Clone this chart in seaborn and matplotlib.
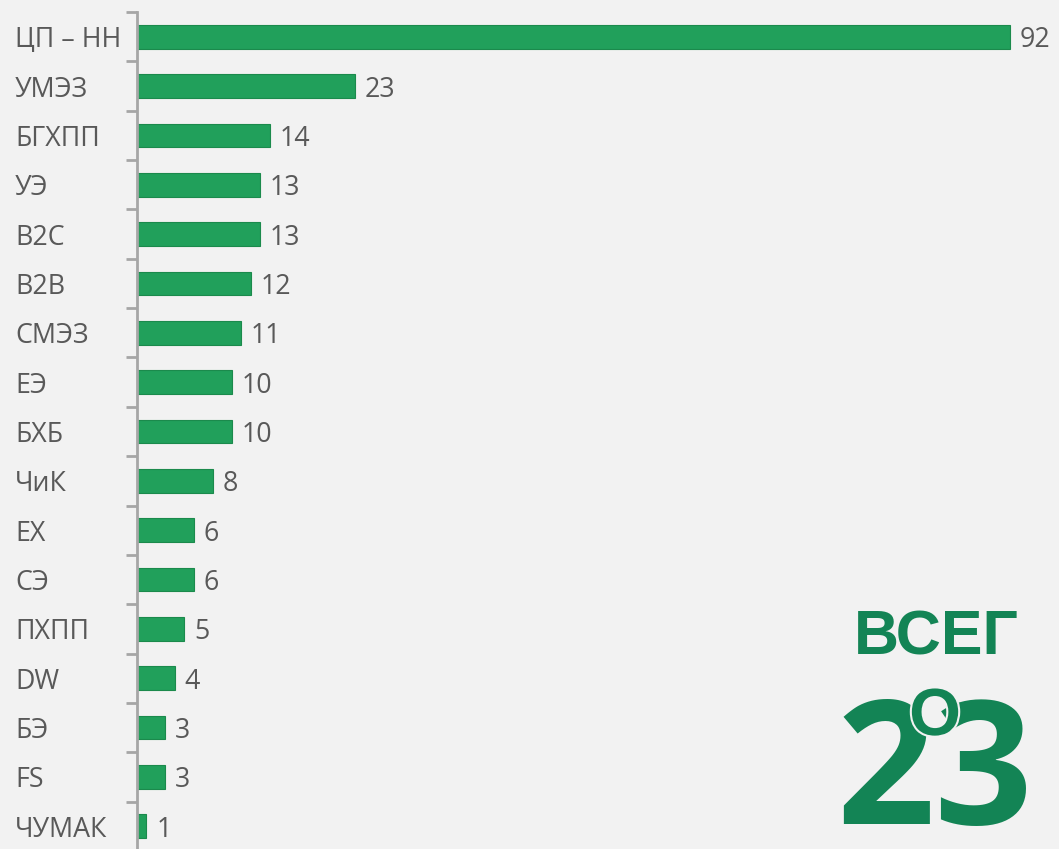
import matplotlib
matplotlib.use("Agg")
import matplotlib.pyplot as plt
import matplotlib.patheffects as pe
import seaborn as sns
import pandas as pd
import numpy as np

# Data
categories = ['ЦП – НН', 'УМЭЗ', 'БГХПП', 'УЭ', 'B2C', 'B2B', 'СМЭЗ', 'ЕЭ', 'БХБ',
              'ЧиК', 'EX', 'СЭ', 'ПХПП', 'DW', 'БЭ', 'FS', 'ЧУМАК']
values = [92, 23, 14, 13, 13, 12, 11, 10, 10, 8, 6, 6, 5, 4, 3, 3, 1]
total_word = 'ВСЕГ'
total_tail = 'О'
total_value = '23'

df = pd.DataFrame({'cat': categories, 'val': values})

sns.set_style("white")
plt.rcParams['font.family'] = ['Open Sans', 'DejaVu Sans']

bg = '#f2f2f2'
bar_color = '#21a05b'
text_gray = '#595959'
big_green = '#138455'

fig = plt.figure(figsize=(10.59, 8.49), dpi=100, facecolor=bg)
W, H = 1059, 849
ax = fig.add_axes([137 / W, 1 - 851 / H, (W - 137) / W, 839 / H])
ax.set_facecolor(bg)

sns.barplot(data=df, x='val', y='cat', orient='h', color=bar_color,
            width=0.48, saturation=1, edgecolor='#1b8a4c', linewidth=0.8, ax=ax)

ax.set_xlim(0, (W - 137) / 9.49)
ax.set_ylim(len(categories) - 0.5, -0.5)

for c in ax.containers:
    labels = ax.bar_label(c, padding=7, fontsize=19.3, color=text_gray)
    for t in labels:
        t.set_verticalalignment('center_baseline')

# axis styling
for s in ['top', 'right', 'bottom']:
    ax.spines[s].set_visible(False)
ax.spines['left'].set_color('#a6a6a6')
ax.spines['left'].set_linewidth(2)
ax.set_xticks([])
ax.set_xlabel('')
ax.set_ylabel('')
ax.set_yticks(np.arange(-0.5, len(categories), 1), minor=True)
ax.tick_params(axis='y', which='minor', left=True, length=8, width=2,
               color='#a6a6a6', direction='out')
ax.tick_params(axis='y', which='major', length=0, pad=122 * 0.72,
               labelsize=19.3, labelcolor=text_gray)
for lab in ax.get_yticklabels():
    lab.set_horizontalalignment('left')

# total annotation
fig.text(936 / W, 1 - 638 / H, total_word, ha='center', va='center',
         fontsize=45, fontweight='bold', color=big_green, family=['Liberation Sans', 'DejaVu Sans'])
fig.text(935 / W, 1 - 824 / H, total_value, ha='center', va='baseline',
         fontsize=124, fontweight='bold', color=big_green)
fig.text(935 / W, 1 - 735 / H, total_tail, ha='center', va='baseline',
         fontsize=48, fontweight='bold', color=big_green,
         family=['Liberation Sans', 'DejaVu Sans'],
         path_effects=[pe.withStroke(linewidth=3, foreground=bg)])

fig.savefig('out.png', dpi=100, facecolor=bg)
